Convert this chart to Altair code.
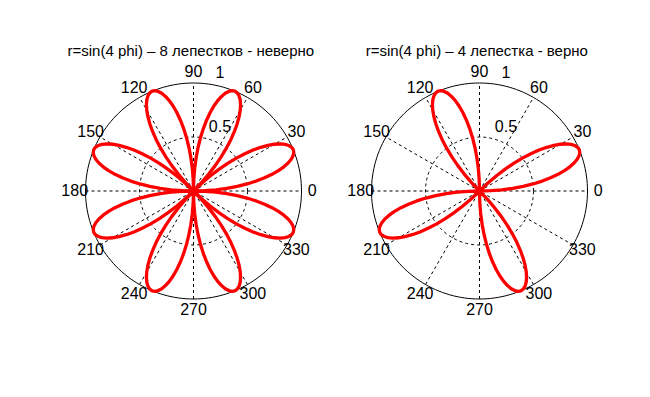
import numpy as np
import pandas as pd
import altair as alt

# ---- data ----
# one petal of r = sin(4*phi): angle offset within the petal (deg) and radius
PETAL_OFFSET_DEG = [0, 1.5, 3, 4.5, 6, 7.5, 9, 10.5, 12, 13.5, 15, 16.5, 18, 19.5, 21, 22.5,
                    24, 25.5, 27, 28.5, 30, 31.5, 33, 34.5, 36, 37.5, 39, 40.5, 42, 43.5, 45]
PETAL_R = [0.0, 0.1045, 0.2079, 0.3090, 0.4067, 0.5, 0.5878, 0.6691, 0.7431, 0.8090, 0.8660,
           0.9135, 0.9511, 0.9781, 0.9945, 1.0, 0.9945, 0.9781, 0.9511, 0.9135, 0.8660,
           0.8090, 0.7431, 0.6691, 0.5878, 0.5, 0.4067, 0.3090, 0.2079, 0.1045, 0.0]
LEFT_PETAL_START = [0, 45, 90, 135, 180, 225, 270, 315]
RIGHT_PETAL_START = [0, 90, 180, 270]
TITLES = ["r=sin(4 phi) \u2013 8 лепестков - неверно", "r=sin(4 phi) \u2013 4 лепестка - верно"]

SPOKE_ANGLES = [0, 30, 60, 90, 120, 150]
ANGLE_LABELS = [0, 30, 60, 90, 120, 150, 180, 210, 240, 270, 300, 330]
GRID_RADII = [0.5, 1.0]
RADIAL_LABELS = ["0.5", "1"]
RADIAL_LABEL_R = [0.5, 1.0]

# ---- layout ----
PX = 108.0            # pixels per unit radius
W, H = 286, 370
CX, CY = 185.5, 183.0  # center inside panel (px)
XDOM = [-CX / PX, (W - CX) / PX]
YDOM = [-(H - CY) / PX, CY / PX]
FONT = "Liberation Sans"

xs = alt.Scale(domain=XDOM, nice=False, zero=False)
ys = alt.Scale(domain=YDOM, nice=False, zero=False)


def enc(**kw):
    return dict(x=alt.X("x:Q", scale=xs, axis=None), y=alt.Y("y:Q", scale=ys, axis=None), **kw)


def panel(starts, title):
    # rose curve
    rows = []
    for k, s in enumerate(starts):
        for i, (o, r) in enumerate(zip(PETAL_OFFSET_DEG, PETAL_R)):
            a = np.deg2rad(s + o)
            rows.append({"seg": k, "i": i, "x": r * np.cos(a), "y": r * np.sin(a)})
    curve = pd.DataFrame(rows)

    # grid circles
    th = np.deg2rad(np.arange(0, 361, 2))
    circ = pd.concat([pd.DataFrame({"c": j, "i": np.arange(len(th)),
                                    "x": rr * np.cos(th), "y": rr * np.sin(th)})
                      for j, rr in enumerate(GRID_RADII)])
    # spokes
    sp = []
    for j, a in enumerate(SPOKE_ANGLES):
        t = np.deg2rad(a)
        for i, rr in enumerate([-1.0, 1.0]):
            sp.append({"s": j, "i": i, "x": rr * np.cos(t), "y": rr * np.sin(t)})
    spokes = pd.DataFrame(sp)

    lab = pd.DataFrame({"t": [str(a) for a in ANGLE_LABELS],
                        "x": [1.1 * np.cos(np.deg2rad(a)) for a in ANGLE_LABELS],
                        "y": [1.1 * np.sin(np.deg2rad(a)) for a in ANGLE_LABELS]})
    rlab = pd.DataFrame({"t": RADIAL_LABELS,
                         "x": [0.245 for _ in RADIAL_LABEL_R],
                         "y": [r + 0.095 for r in RADIAL_LABEL_R]})
    tdf = pd.DataFrame({"t": [title], "x": [-0.025], "y": [1.30]})

    spoke_l = alt.Chart(spokes).mark_line(color="black", strokeWidth=1, strokeDash=[3, 3]).encode(
        **enc(detail="s:N", order="i:Q"))
    inner = alt.Chart(circ[circ.c == 0]).mark_line(color="black", strokeWidth=1, strokeDash=[3, 3]).encode(
        **enc(order="i:Q"))
    outer = alt.Chart(circ[circ.c == 1]).mark_line(color="black", strokeWidth=1).encode(
        **enc(order="i:Q"))
    rose = alt.Chart(curve).mark_line(color="#ff0000", strokeWidth=3.3, strokeJoin="round").encode(
        **enc(detail="seg:N", order="i:Q"))
    labels = alt.Chart(lab).mark_text(font=FONT, fontSize=16, color="black", align="center",
                                      baseline="middle").encode(**enc(text="t:N"))
    rlabels = alt.Chart(rlab).mark_text(font=FONT, fontSize=16, color="black", align="center",
                                        baseline="middle").encode(**enc(text="t:N"))
    ttl = alt.Chart(tdf).mark_text(font=FONT, fontSize=15, color="black", align="center",
                                   baseline="middle").encode(**enc(text="t:N"))
    return alt.layer(spoke_l, inner, outer, rose, labels, rlabels, ttl).properties(width=W, height=H)


chart = alt.hconcat(panel(LEFT_PETAL_START, TITLES[0]), panel(RIGHT_PETAL_START, TITLES[1]),
                    spacing=0, bounds="flush").properties(padding=0).configure_view(strokeWidth=0)

chart.save("out.html", embed_options={"renderer": "svg", "actions": False})
